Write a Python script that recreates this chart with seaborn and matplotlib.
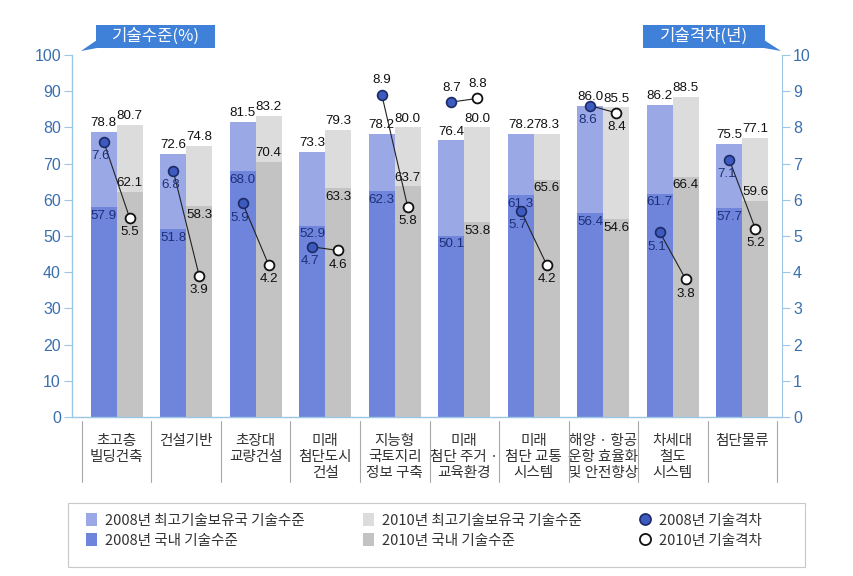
import numpy as np
import pandas as pd
import seaborn as sns
import matplotlib.pyplot as plt
from matplotlib import font_manager
from matplotlib.patches import Patch, Polygon, Rectangle
from matplotlib.lines import Line2D
import matplotlib.transforms as mtransforms

sns.set_style("white")
plt.rcParams["font.family"] = ["Noto Sans CJK KR", "DejaVu Sans"]

installed = {f.name for f in font_manager.fontManager.ttflist}
num_font = "Liberation Sans Narrow" if "Liberation Sans Narrow" in installed else "Liberation Sans"

# 데이터
categories = ["초고층\n빌딩건축", "건설기반", "초장대\n교량건설", "미래\n첨단도시\n건설",
              "지능형\n국토지리\n정보 구축", "미래\n첨단 주거 ·\n교육환경", "미래\n첨단 교통\n시스템",
              "해양 · 항공\n운항 효율화\n및 안전향상", "차세대\n철도\n시스템", "첨단물류"]
leader_2008 = [78.8, 72.6, 81.5, 73.3, 78.2, 76.4, 78.2, 86.0, 86.2, 75.5]
leader_2010 = [80.7, 74.8, 83.2, 79.3, 80.0, 80.0, 78.3, 85.5, 88.5, 77.1]
domestic_2008 = [57.9, 51.8, 68.0, 52.9, 62.3, 50.1, 61.3, 56.4, 61.7, 57.7]
domestic_2010 = [62.1, 58.3, 70.4, 63.3, 63.7, 53.8, 65.6, 54.6, 66.4, 59.6]
gap_2008 = [7.6, 6.8, 5.9, 4.7, 8.9, 8.7, 5.7, 8.6, 5.1, 7.1]
gap_2010 = [5.5, 3.9, 4.2, 4.6, 5.8, 8.8, 4.2, 8.4, 3.8, 5.2]

# 라벨 위치 (위/아래)
dom10_pos = ["up", "down", "up", "down", "up", "down", "down", "down", "down", "up"]
gap08_pos = ["down", "down", "down", "down", "up", "up", "down", "down", "down", "down"]
gap10_pos = ["down", "down", "down", "down", "down", "up", "down", "down", "down", "down"]

years = ["2008", "2010"]
df = pd.DataFrame({
    "cat": categories * 2,
    "year": ["2008"] * 10 + ["2010"] * 10,
    "leader": leader_2008 + leader_2010,
    "domestic": domestic_2008 + domestic_2010,
})

c_lblue, c_blue = "#9ba8e6", "#6f85dc"
c_lgray, c_gray = "#dcdcdc", "#c3c3c3"
axis_blue = "#9cc6e6"
tick_blue = "#3a6fae"

fig = plt.figure(figsize=(8.54, 5.76), dpi=100)
ax = fig.add_axes([72 / 854, 159 / 576, 710 / 854, 362 / 576])

bw = 0.746
sns.barplot(data=df, x="cat", y="leader", hue="year", order=categories, hue_order=years,
            palette=[c_lblue, c_lgray], width=bw, gap=0, dodge=True, saturation=1,
            errorbar=None, linewidth=0, legend=False, ax=ax)
sns.barplot(data=df, x="cat", y="domestic", hue="year", order=categories, hue_order=years,
            palette=[c_blue, c_gray], width=bw, gap=0, dodge=True, saturation=1,
            errorbar=None, linewidth=0, legend=False, ax=ax)

ax.set_xlim(-0.643, 9.57)
ax.set_ylim(0, 100)
ax.set_yticks(range(0, 101, 10))
ax.set_xlabel("")
ax.set_ylabel("")
for s in ["top", "right"]:
    ax.spines[s].set_visible(False)
for s in ["left", "bottom"]:
    ax.spines[s].set_color(axis_blue)
    ax.spines[s].set_linewidth(1)
ax.tick_params(axis="y", length=6, color=axis_blue, labelcolor=tick_blue, labelsize=11.5, pad=2)
for t in ax.get_yticklabels():
    t.set_fontfamily("Liberation Sans")
ax.tick_params(axis="x", length=0, pad=12, labelsize=10.5, labelcolor="#333333")
for t in ax.get_xticklabels():
    t.set_linespacing(1.2)
    t.set_verticalalignment("top")

# 카테고리 구분선
trans = mtransforms.blended_transform_factory(ax.transData, ax.transAxes)
for i in range(len(categories) + 1):
    ax.add_line(Line2D([i - 0.5, i - 0.5], [-0.01, -0.18], transform=trans,
                       color="#a8a8a8", lw=0.8, clip_on=False))

off = bw / 4
num_kw = dict(fontsize=9.6, family=num_font, ha="center")
for i in range(len(categories)):
    ax.annotate(f"{leader_2008[i]:.1f}", (i - off, leader_2008[i]), xytext=(0, 2),
                textcoords="offset points", va="bottom", color="#111111", **num_kw)
    ax.annotate(f"{leader_2010[i]:.1f}", (i + off, leader_2010[i]), xytext=(0, 2),
                textcoords="offset points", va="bottom", color="#111111", **num_kw)
    ax.annotate(f"{domestic_2008[i]:.1f}", (i - off, domestic_2008[i]), xytext=(0, -2),
                textcoords="offset points", va="top", color="#1c2f78", **num_kw)
    up = dom10_pos[i] == "up"
    ax.annotate(f"{domestic_2010[i]:.1f}", (i + off, domestic_2010[i]), xytext=(0, 2 if up else -2),
                textcoords="offset points", va="bottom" if up else "top", color="#111111", **num_kw)

# 기술격차 (오른쪽 축)
ax2 = ax.twinx()
ax2.set_ylim(0, 10)
ax2.set_yticks(range(0, 11))
for s in ["top", "left", "bottom"]:
    ax2.spines[s].set_visible(False)
ax2.spines["right"].set_color(axis_blue)
ax2.tick_params(axis="y", length=6, color=axis_blue, labelcolor=tick_blue, labelsize=11.5, pad=2)
for t in ax2.get_yticklabels():
    t.set_fontfamily("Liberation Sans")
ax2.grid(False)

gx08 = np.arange(len(categories)) - off
gx10 = np.arange(len(categories)) + off
for i in range(len(categories)):
    ax2.plot([gx08[i], gx10[i]], [gap_2008[i], gap_2010[i]], color="#222222", lw=0.8, zorder=3)
sns.scatterplot(x=gx08, y=gap_2008, color="#3d5bbf", edgecolor="#1b2a66", linewidth=1.2,
                s=50, zorder=4, ax=ax2, legend=False)
sns.scatterplot(x=gx10, y=gap_2010, color="white", edgecolor="#111111", linewidth=1.3,
                s=50, zorder=4, ax=ax2, legend=False)
ax2.set_xlim(-0.643, 9.57)

for i in range(len(categories)):
    up = gap08_pos[i] == "up"
    ax2.annotate(f"{gap_2008[i]:.1f}", (gx08[i], gap_2008[i]), xytext=(-2 if not up else 0, 6 if up else -6),
                 textcoords="offset points", va="bottom" if up else "top",
                 color="#1c2f78" if not up else "#111111", zorder=5, **num_kw)
    up = gap10_pos[i] == "up"
    ax2.annotate(f"{gap_2010[i]:.1f}", (gx10[i], gap_2010[i]), xytext=(0, 6 if up else -6),
                 textcoords="offset points", va="bottom" if up else "top",
                 color="#111111", zorder=5, **num_kw)

# 축 제목 박스
box_c = "#3f80d8"
def px(x, y):
    return (x / 854, 1 - y / 576)

for (x0, x1), label in [((96, 215), "기술수준(%)"), ((643, 765), "기술격차(년)")]:
    fig.patches.append(Rectangle(px(x0, 48), (x1 - x0) / 854, 23 / 576, fc=box_c, ec="none",
                                 transform=fig.transFigure))
    fig.text((x0 + x1) / 2 / 854, 1 - 36.5 / 576, label, ha="center", va="center",
             fontsize=12, color="white")
fig.patches.append(Polygon([px(81, 51), px(97, 40), px(97, 48)], closed=True, fc=box_c, ec="none",
                           transform=fig.transFigure))
fig.patches.append(Polygon([px(764, 40), px(781, 51), px(764, 48)], closed=True, fc=box_c, ec="none",
                           transform=fig.transFigure))

# 범례
fig.patches.append(Rectangle(px(68, 567), 737 / 854, 64 / 576, fc="white", ec="#c8c8c8", lw=0.8,
                             transform=fig.transFigure))
handles = [
    Patch(fc=c_lblue, ec="none", label="2008년 최고기술보유국 기술수준"),
    Patch(fc=c_blue, ec="none", label="2008년 국내 기술수준"),
    Patch(fc=c_lgray, ec="none", label="2010년 최고기술보유국 기술수준"),
    Patch(fc=c_gray, ec="none", label="2010년 국내 기술수준"),
    Line2D([], [], ls="none", marker="o", ms=8, mfc="#3d5bbf", mec="#1b2a66", mew=1.2, label="2008년 기술격차"),
    Line2D([], [], ls="none", marker="o", ms=8, mfc="white", mec="#111111", mew=1.3, label="2010년 기술격차"),
]
leg = fig.legend(handles=handles, ncol=3, loc="upper left",
                 bbox_to_anchor=px(82, 509),
                 frameon=False, fontsize=10.5,
                 handlelength=0.7, handleheight=1.0, handletextpad=0.6, columnspacing=4.0,
                 labelspacing=0.35, borderpad=0.3, borderaxespad=0)
for t in leg.get_texts():
    t.set_color("#333333")

fig.savefig("out.png", dpi=100)
